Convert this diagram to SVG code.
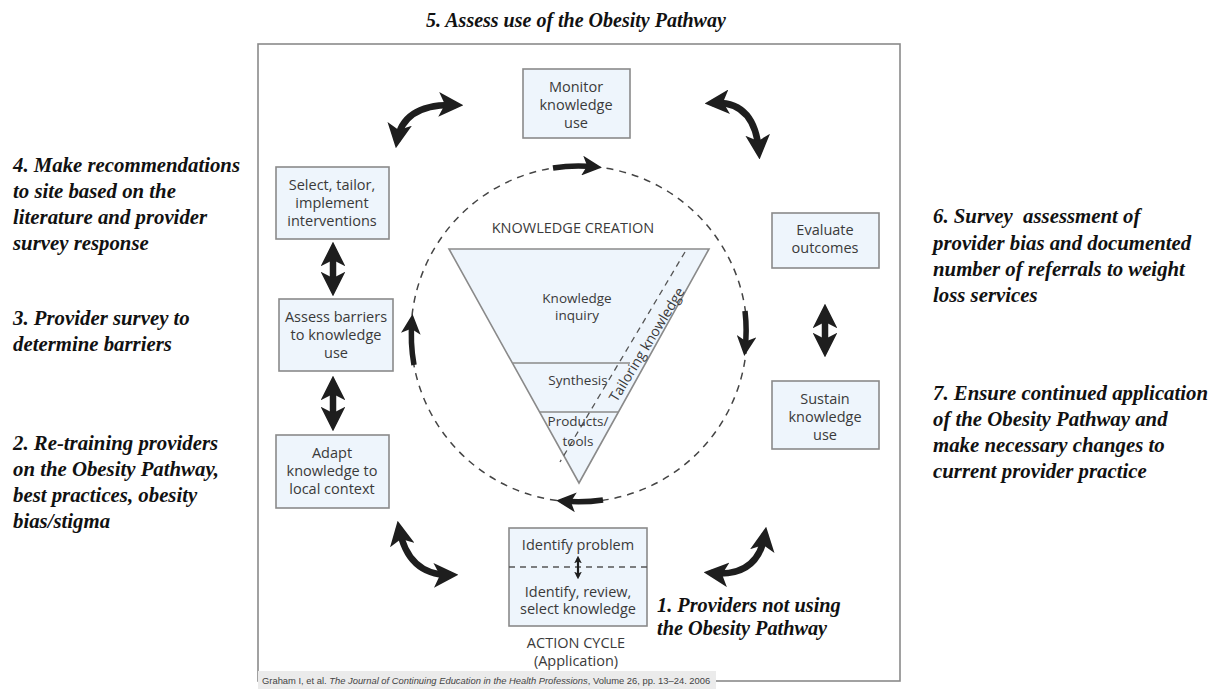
<svg xmlns="http://www.w3.org/2000/svg" width="1210" height="689" viewBox="0 0 1210 689">
<style>
.box{fill:#eef5fc;stroke:#8a8a8a;stroke-width:1.6}
.bt{font-family:"Open Sans","Noto Sans",sans-serif;font-size:14.5px;fill:#3a3a3a;text-anchor:middle}
.st{font-family:"Open Sans","Noto Sans",sans-serif;font-size:13.5px;fill:#3a3a3a;text-anchor:middle}
.ann{font-family:"Liberation Serif","Times New Roman",serif;font-size:20.8px;font-weight:bold;font-style:italic;fill:#111}
.thick{fill:none;stroke:#1e1e1e;stroke-width:6.5;marker-start:url(#hd);marker-end:url(#hd)}
.cyc{fill:none;stroke:#1e1e1e;stroke-width:5.5;marker-end:url(#hs)}
.dash{fill:none;stroke:#444;stroke-width:1.5;stroke-dasharray:7 6}
</style>
<defs>
<marker id="hd" viewBox="0 0 10 10" refX="7" refY="5" markerWidth="3.8" markerHeight="3.8" orient="auto-start-reverse" markerUnits="strokeWidth">
<path d="M0,0 L10,5 L0,10 L2.5,5 z" fill="#1e1e1e"/>
</marker>
<marker id="hs" viewBox="0 0 10 10" refX="7" refY="5" markerWidth="3.6" markerHeight="3.6" orient="auto" markerUnits="strokeWidth">
<path d="M0,0 L10,5 L0,10 L2.5,5 z" fill="#1e1e1e"/>
</marker>
<marker id="hm" viewBox="0 0 10 10" refX="7" refY="5" markerWidth="3.5" markerHeight="3.5" orient="auto-start-reverse" markerUnits="strokeWidth">
<path d="M0,0 L10,5 L0,10 L2.5,5 z" fill="#1e1e1e"/>
</marker>
</defs>

<g id="frame">
<rect x="258" y="44" width="642" height="637" fill="#fff" stroke="#8a8a8a" stroke-width="1.6"/>
<rect x="258" y="671" width="458" height="18" fill="#ebebeb"/>
<text x="262" y="684" font-family="Liberation Sans, Arial, sans-serif" font-size="9.4" fill="#444">Graham I, et al. <tspan font-style="italic">The Journal of Continuing Education in the Health Professions</tspan>, Volume 26, pp. 13–24. 2006</text>
</g>

<g id="knowledge-creation">
<text x="573" y="233" class="bt">KNOWLEDGE CREATION</text>
<polygon points="449,249 709,249 579,483" class="box"/>
<line x1="513" y1="363" x2="630" y2="363" stroke="#8a8a8a" stroke-width="1.6"/>
<line x1="540" y1="412" x2="618" y2="412" stroke="#8a8a8a" stroke-width="1.6"/>
<line x1="685" y1="252" x2="560" y2="462" stroke="#555" stroke-width="1.3" stroke-dasharray="6 5"/>
<text x="577" y="303" class="st">Knowledge</text>
<text x="577" y="320" class="st">inquiry</text>
<text x="578" y="385" class="st">Synthesis</text>
<text x="578" y="426" class="st">Products/</text>
<text x="578" y="446" class="st">tools</text>
<text transform="translate(651,347) rotate(-58.5)" class="st" style="font-size:14px">Tailoring knowledge</text>
</g>

<g id="monitor"><rect x="523" y="69" width="107" height="69" class="box"/>
<text x="576" y="92" class="bt">Monitor</text><text x="576" y="110" class="bt">knowledge</text><text x="576" y="128" class="bt">use</text></g>

<g id="select"><rect x="276" y="167" width="113" height="72" class="box"/>
<text x="332" y="190" class="bt">Select, tailor,</text><text x="332" y="208" class="bt">implement</text><text x="332" y="226" class="bt">interventions</text></g>

<g id="assess"><rect x="279" y="299" width="114" height="72" class="box"/>
<text x="336" y="322" class="bt">Assess barriers</text><text x="336" y="340" class="bt">to knowledge</text><text x="336" y="358" class="bt">use</text></g>

<g id="adapt"><rect x="276" y="435" width="113" height="73" class="box"/>
<text x="332" y="458" class="bt">Adapt</text><text x="332" y="476" class="bt">knowledge to</text><text x="332" y="494" class="bt">local context</text></g>

<g id="identify"><rect x="509" y="528" width="138" height="98" class="box"/>
<text x="578" y="550" class="bt">Identify problem</text>
<line x1="509" y1="567" x2="647" y2="567" stroke="#555" stroke-width="1.3" stroke-dasharray="6 5"/>
<text x="578" y="597" class="bt">Identify, review,</text><text x="578" y="614" class="bt">select knowledge</text></g>

<g id="action-cycle">
<text x="576" y="648" class="bt">ACTION CYCLE</text><text x="576" y="666" class="bt">(Application)</text></g>

<g id="evaluate"><rect x="772" y="213" width="107" height="55" class="box"/>
<text x="825" y="235" class="bt">Evaluate</text><text x="825" y="253" class="bt">outcomes</text></g>

<g id="sustain"><rect x="772" y="381" width="107" height="68" class="box"/>
<text x="825" y="404" class="bt">Sustain</text><text x="825" y="422" class="bt">knowledge</text><text x="825" y="440" class="bt">use</text></g>

<g id="connectors">
<circle cx="579" cy="334" r="168" class="dash"/>
<path d="M553,168 A168,168 0 0 1 596,167" class="cyc"/>
<path d="M745,311 A168,168 0 0 1 745,350" class="cyc"/>
<path d="M603,500 A168,168 0 0 1 562,501" class="cyc"/>
<path d="M414,365 A168,168 0 0 1 412,320" class="cyc"/>
<path d="M397,141 Q403,103 456,105" class="thick"/>
<path d="M712,103 Q755,100 759,152" class="thick"/>
<path d="M399,528 Q408,576 451,575" class="thick"/>
<path d="M711,573 Q758,578 765,534" class="thick"/>
<path d="M333,249 L333,289" class="thick"/>
<path d="M333,383 L333,424" class="thick"/>
<path d="M825,311 L825,350" class="thick"/>
<path d="M578,558 L578,577" fill="none" stroke="#1e1e1e" stroke-width="2.2" marker-start="url(#hm)" marker-end="url(#hm)"/>
</g>

<g id="annotations">
<text x="426" y="27" class="ann" style="font-size:20px">5. Assess use of the Obesity Pathway</text>
<text x="13" y="172" class="ann">4. Make recommendations</text>
<text x="13" y="198" class="ann">to site based on the</text>
<text x="13" y="224" class="ann">literature and provider</text>
<text x="13" y="250" class="ann">survey response</text>
<text x="13" y="325" class="ann">3. Provider survey to</text>
<text x="13" y="351" class="ann">determine barriers</text>
<text x="13" y="450" class="ann">2. Re-training providers</text>
<text x="13" y="476" class="ann">on the Obesity Pathway,</text>
<text x="13" y="502" class="ann">best practices, obesity</text>
<text x="13" y="528" class="ann">bias/stigma</text>
<text x="933" y="223" class="ann" xml:space="preserve">6. Survey  assessment of</text>
<text x="933" y="250" class="ann">provider bias and documented</text>
<text x="933" y="276" class="ann">number of referrals to weight</text>
<text x="933" y="302" class="ann">loss services</text>
<text x="933" y="400" class="ann">7. Ensure continued application</text>
<text x="933" y="426" class="ann">of the Obesity Pathway and</text>
<text x="933" y="452" class="ann">make necessary changes to</text>
<text x="933" y="478" class="ann">current provider practice</text>
<text x="657" y="612" class="ann" style="font-size:20.3px">1. Providers not using</text>
<text x="657" y="635" class="ann" style="font-size:20.3px">the Obesity Pathway</text>
</g>
</svg>
